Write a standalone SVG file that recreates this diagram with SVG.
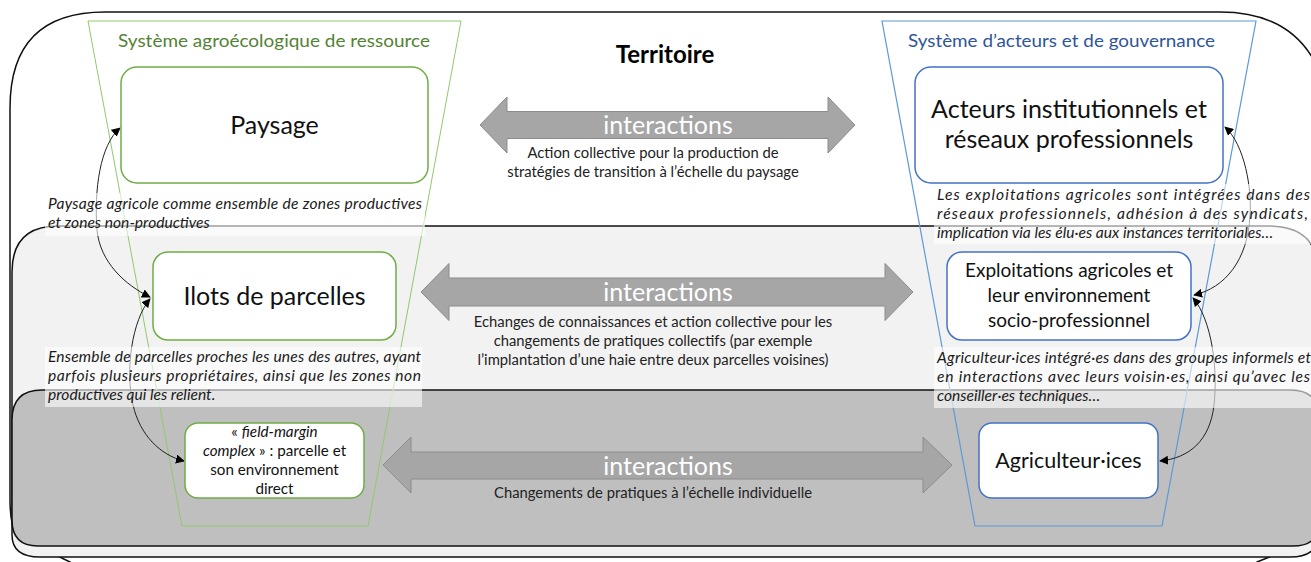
<svg xmlns="http://www.w3.org/2000/svg" width="1311" height="562" viewBox="0 0 1311 562">
<style>
text{font-family:Lato,"Liberation Sans",sans-serif;fill:#111}
.title{font-size:17.5px}
.node{font-size:25px;text-anchor:middle}
.desc{font-size:15.6px;font-style:italic;fill:#1a1a1a}
.sub{font-size:14.8px;text-anchor:middle;fill:#222}
.inter{font-size:25px;fill:#fff;text-anchor:middle}
.arrow{fill:#a6a6a6;stroke:#8c8c8c;stroke-width:1}
.band{stroke:#111;stroke-width:1.5}
.tbg{fill:#fff;fill-opacity:0.6}
.gbox{fill:#fff;stroke:#70ad47;stroke-width:1.5}
.bbox{fill:#fff;stroke:#4472c4;stroke-width:1.5}
.conn{fill:none;stroke:#222;stroke-width:1;marker-start:url(#ah);marker-end:url(#ah)}
</style>
<defs>
<marker id="ah" viewBox="0 0 10 10" refX="9" refY="5" markerWidth="9" markerHeight="9" markerUnits="userSpaceOnUse" orient="auto-start-reverse">
<path d="M0,0 L10,5 L0,10 Z" fill="#000"/>
</marker>
</defs>
<g id="bands">
<path class="band" fill="#fff" d="M10,108 Q10,12 105,12 H1220 Q1315,12 1330,110 V500 C1330,530 1300,545 1257,562 L1240,600 H110 L70,562 C55,555 45,548 33,547 Q10,545 10,500 Z"/>
<path class="band" fill="#f2f2f2" d="M12,272 Q12,226 58,226 H1268 Q1318,226 1318,272 V535 Q1318,557 1290,557 H40 Q12,557 12,535 Z"/>
<path class="band" fill="#bfbfbf" d="M12,420 Q12,390 42,390 H1290 Q1320,390 1320,420 V520 Q1320,546 1293,546 H38 Q12,546 12,520 Z"/>
</g>
<g id="systems">
<polygon points="88,21 461,21 368,526 182,526" fill="none" stroke="#92c86e" stroke-width="1"/>
<polygon points="882,21 1256,21 1162,526 975,526" fill="none" stroke="#5b9bd5" stroke-width="1.2"/>
<text class="title" x="118" y="47" style="fill:#548235" textLength="312" lengthAdjust="spacingAndGlyphs">Système agroécologique de ressource</text>
<text class="title" x="908" y="47" style="fill:#2f5597" textLength="307" lengthAdjust="spacingAndGlyphs">Système d’acteurs et de gouvernance</text>
<text x="665" y="63" text-anchor="middle" font-weight="bold" font-size="24px" style="fill:#000">Territoire</text>
</g>
<g id="connectors">
<path class="conn" d="M150,297 C125,285 100,262 97,230 C94,190 100,145 120,128"/>
<path class="conn" d="M150,299 C132,320 125,370 133,405 C140,435 160,455 184,461"/>
<path class="conn" d="M1194,295 C1225,288 1248,260 1250,215 C1252,190 1245,145 1225,127"/>
<path class="conn" d="M1193,298 C1212,320 1218,370 1214,405 C1210,440 1190,458 1160,461"/>
</g>
<g id="descriptions">
<rect class="tbg" x="45" y="193" width="380" height="43"/>
<text class="desc" x="48" y="209" textLength="374" lengthAdjust="spacing">Paysage agricole comme ensemble de zones productives</text>
<text class="desc" x="48" y="228">et zones non-productives</text>
<rect class="tbg" x="45" y="347" width="377" height="60"/>
<text class="desc" x="48" y="362" textLength="373" lengthAdjust="spacing">Ensemble de parcelles proches les unes des autres, ayant</text>
<text class="desc" x="48" y="381" textLength="373" lengthAdjust="spacing">parfois plusieurs propriétaires, ainsi que les zones non</text>
<text class="desc" x="48" y="400">productives qui les relient.</text>
<rect class="tbg" x="934" y="184" width="380" height="60"/>
<text class="desc" x="937" y="200" textLength="373" lengthAdjust="spacing">Les exploitations agricoles sont intégrées dans des</text>
<text class="desc" x="937" y="219" textLength="371" lengthAdjust="spacing">réseaux professionnels, adhésion à des syndicats,</text>
<text class="desc" x="937" y="238">implication via les élu·es aux instances territoriales…</text>
<rect class="tbg" x="934" y="347" width="380" height="61"/>
<text class="desc" x="937" y="363" textLength="374" lengthAdjust="spacing">Agriculteur·ices intégré·es dans des groupes informels et</text>
<text class="desc" x="937" y="382" textLength="373" lengthAdjust="spacing">en interactions avec leurs voisin·es, ainsi qu’avec les</text>
<text class="desc" x="937" y="401">conseiller·es techniques…</text>
</g>
<g id="paysage">
<rect class="gbox" x="121" y="67" width="307" height="116" rx="16"/>
<text class="node" x="274.5" y="134">Paysage</text>
</g>
<g id="ilots">
<rect class="gbox" x="153" y="252" width="243" height="88" rx="15"/>
<text class="node" x="274.5" y="305">Ilots de parcelles</text>
</g>
<g id="field-margin">
<rect class="gbox" x="185" y="423" width="179" height="75" rx="13"/>
<text x="274.5" y="437" text-anchor="middle" font-size="15.2px">« <tspan font-style="italic">field-margin</tspan></text>
<text x="274.5" y="456" text-anchor="middle" font-size="15.2px"><tspan font-style="italic">complex</tspan> » : parcelle et</text>
<text x="274.5" y="475" text-anchor="middle" font-size="15.2px">son environnement</text>
<text x="274.5" y="494" text-anchor="middle" font-size="15.2px">direct</text>
</g>
<g id="acteurs">
<rect class="bbox" x="915" y="67" width="308" height="116" rx="16"/>
<text class="node" x="1069" y="118">Acteurs institutionnels et</text>
<text class="node" x="1069" y="148">réseaux professionnels</text>
</g>
<g id="exploitations">
<rect class="bbox" x="947" y="252" width="244" height="88" rx="15"/>
<text x="1069" y="277" text-anchor="middle" font-size="19px">Exploitations agricoles et</text>
<text x="1069" y="302" text-anchor="middle" font-size="19px">leur environnement</text>
<text x="1069" y="327" text-anchor="middle" font-size="19px">socio-professionnel</text>
</g>
<g id="agriculteurs">
<rect class="bbox" x="979" y="423" width="179" height="75" rx="13"/>
<text x="1068.5" y="468" text-anchor="middle" font-size="21.5px">Agriculteur·ices</text>
</g>
<g id="interaction-top">
<polygon class="arrow" points="480,125 507,97 507,111.5 828,111.5 828,97 855,125 828,153 828,138.5 507,138.5 507,153"/>
<text class="inter" x="668" y="134">interactions</text>
<text class="sub" x="653" y="158">Action collective pour la production de</text>
<text class="sub" x="653" y="177">stratégies de transition à l’échelle du paysage</text>
</g>
<g id="interaction-middle">
<polygon class="arrow" points="421,292 449,263.5 449,278 885,278 885,263.5 913,292 885,320.5 885,306 449,306 449,320.5"/>
<text class="inter" x="668" y="301">interactions</text>
<text class="sub" x="653" y="327">Echanges de connaissances et action collective pour les</text>
<text class="sub" x="653" y="346">changements de pratiques collectifs (par exemple</text>
<text class="sub" x="653" y="365">l’implantation d’une haie entre deux parcelles voisines)</text>
</g>
<g id="interaction-bottom">
<polygon class="arrow" points="383,465 411,437 411,452 923,452 923,437 952,465 923,493 923,479 411,479 411,493"/>
<text class="inter" x="668" y="475">interactions</text>
<text class="sub" x="653" y="498">Changements de pratiques à l’échelle individuelle</text>
</g>
</svg>
